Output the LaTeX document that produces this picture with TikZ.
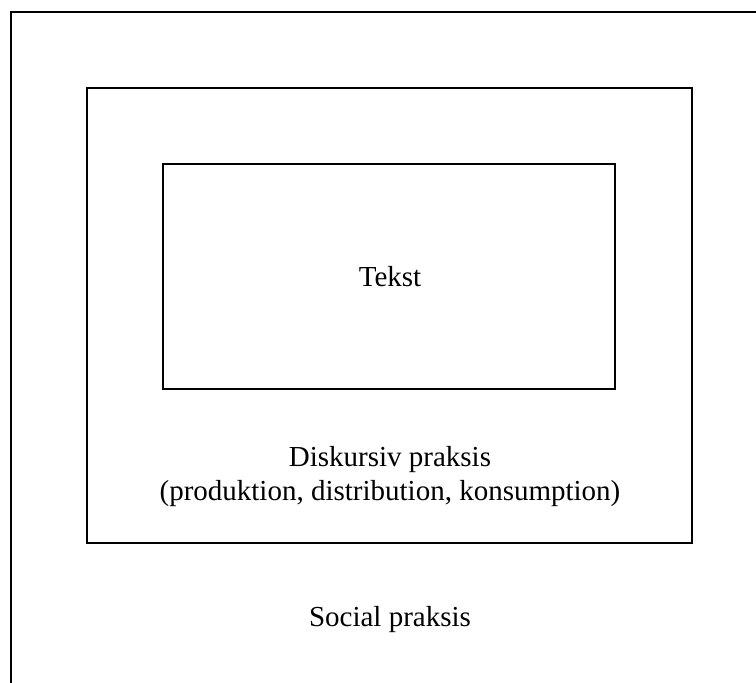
\documentclass[tikz,border=0pt]{standalone}
\usepackage{fontspec}
\setmainfont{Liberation Serif}
\begin{document}
\begin{tikzpicture}[x=1pt,y=-1pt,
  box/.style={draw=black,line width=1.6pt},
  lbl/.style={font=\fontsize{29}{34}\selectfont,align=center,inner sep=0pt}]
\useasboundingbox (0,0) rectangle (756,683);
\clip (0,0) rectangle (756,683);
\draw[box] (11,700) -- (11,12) -- (770,12);
\draw[box] (87,88) rectangle (692,543);
\draw[box] (163,164) rectangle (615,389);
\node[lbl] (tekst) at (390,277) {Tekst};
\node[lbl] (disk) at (390,477) {Diskursiv praksis\\(produktion, distribution, konsumption)};
\node[lbl] (social) at (390,620) {Social praksis};
\end{tikzpicture}
\end{document}
